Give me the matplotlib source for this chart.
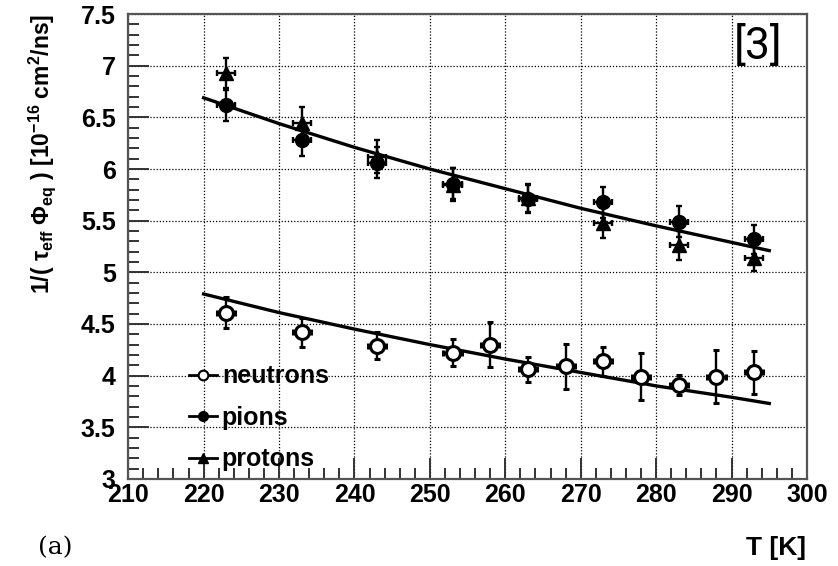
import matplotlib
matplotlib.use('Agg')
from matplotlib import pyplot as plt
from matplotlib.lines import Line2D
from matplotlib.ticker import MultipleLocator

# Temperatures [K]
T_hadrons = [223, 233, 243, 253, 263, 273, 283, 293]
T_neutrons = [223, 233, 243, 253, 258, 263, 268, 273, 278, 283, 288, 293]

# 1/(tau_eff * Phi_eq) [1e-16 cm^2/ns]
pions = [6.62, 6.28, 6.06, 5.86, 5.71, 5.68, 5.49, 5.32]
pions_err = [0.15, 0.15, 0.15, 0.15, 0.14, 0.15, 0.15, 0.14]
protons = [6.93, 6.45, 6.12, 5.85, 5.72, 5.48, 5.26, 5.14]
protons_err = [0.15, 0.15, 0.16, 0.16, 0.14, 0.15, 0.14, 0.13]
neutrons = [4.61, 4.42, 4.29, 4.22, 4.30, 4.06, 4.09, 4.14, 3.99, 3.91, 3.99, 4.03]
neutrons_err = [0.15, 0.14, 0.13, 0.13, 0.22, 0.12, 0.22, 0.14, 0.23, 0.10, 0.26, 0.21]
T_err = 1.2

# Fit curves
T_fit = [220, 230, 240, 250, 260, 270, 280, 290, 295]
fit_charged = [6.69, 6.44, 6.21, 6.00, 5.81, 5.62, 5.45, 5.29, 5.21]
fit_neutral = [4.79, 4.61, 4.45, 4.30, 4.16, 4.03, 3.90, 3.79, 3.73]

plt.rcParams['font.family'] = ['Liberation Sans', 'DejaVu Sans']
plt.rcParams['font.weight'] = 'bold'
plt.rcParams['mathtext.fontset'] = 'custom'
plt.rcParams['mathtext.rm'] = 'Liberation Sans:bold'
plt.rcParams['mathtext.it'] = 'Liberation Sans:bold'
plt.rcParams['mathtext.bf'] = 'Liberation Sans:bold'

fig = plt.figure(figsize=(8.38, 5.66), dpi=100)
ax = fig.add_axes([0.153, 0.154, 0.81, 0.821])

# fit lines
ax.plot(T_fit, fit_charged, color='black', lw=2.4, zorder=3)
ax.plot(T_fit, fit_neutral, color='black', lw=2.4, zorder=3)

eb = dict(ecolor='black', elinewidth=1.7, capsize=2.5, capthick=1.7, zorder=4)
ax.errorbar(T_neutrons, neutrons, yerr=neutrons_err, xerr=T_err, fmt='o',
            mfc='white', mec='black', mew=2.2, ms=10, **eb)
ax.errorbar(T_hadrons, pions, yerr=pions_err, xerr=T_err, fmt='o',
            color='black', ms=10, **eb)
ax.errorbar(T_hadrons, protons, yerr=protons_err, xerr=T_err, fmt='^',
            color='black', ms=10, **eb)

ax.set_xlim(210, 300)
ax.set_ylim(3, 7.5)
ax.xaxis.set_major_locator(MultipleLocator(10))
ax.xaxis.set_minor_locator(MultipleLocator(2))
ax.yaxis.set_major_locator(MultipleLocator(0.5))
ax.yaxis.set_minor_locator(MultipleLocator(0.1))
ax.yaxis.set_major_formatter(plt.FuncFormatter(lambda v, p: f'{v:g}'))

ax.tick_params(which='both', direction='in', top=False, right=False,
               labelsize=18, width=1.4, color='#333333')
ax.tick_params(which='major', length=15)
ax.tick_params(which='minor', length=8)
ax.tick_params(axis='x', pad=3)
ax.tick_params(axis='y', pad=9)
for s in ax.spines.values():
    s.set_color('#555555')
    s.set_linewidth(1.6)

ax.grid(True, which='major', color='black', linestyle=(0, (1, 1.5)), lw=0.9)
ax.set_axisbelow(True)

ax.set_ylabel(r'1/( $\tau_{\rm eff}$ $\Phi_{\rm eq}$ ) [10$^{-16}$ cm$^2$/ns]',
              fontsize=16.5, fontweight='bold', loc='top')
ax.yaxis.set_label_coords(-0.103, 1.0)

# legend entries: marker on a short horizontal line
handles = [
    Line2D([], [], color='black', lw=2, marker='o', ms=7, mfc='white', mew=1.5),
    Line2D([], [], color='black', lw=2, marker='o', ms=7),
    Line2D([], [], color='black', lw=2, marker='^', ms=7),
]
ax.legend(handles, ['neutrons', 'pions', 'protons'],
          loc='lower left', bbox_to_anchor=(0.09, 0.016), frameon=False,
          fontsize=18, handlelength=1.1, handletextpad=0.2,
          labelspacing=0.7, borderpad=0, borderaxespad=0)

fig.text(0.962, 0.02, 'T [K]', fontsize=19, fontweight='bold', ha='right')
fig.text(0.045, 0.02, '(a)', fontsize=18, family='DejaVu Serif',
         fontweight='normal')
ax.text(0.963, 0.93, '[3]', transform=ax.transAxes, fontsize=32,
        fontweight='normal', family=['Roboto', 'DejaVu Sans'], ha='right',
        va='center')

fig.savefig('out.png', dpi=100)
